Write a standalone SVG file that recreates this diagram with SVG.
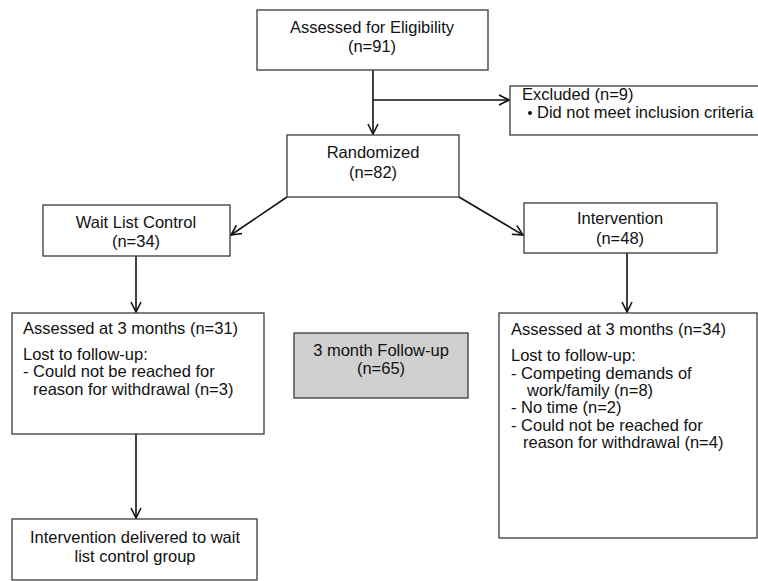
<svg xmlns="http://www.w3.org/2000/svg" width="758" height="581" viewBox="0 0 758 581">
<style>
.box{fill:#fff;stroke:#3a3a3a;stroke-width:1.3}
.gray{fill:#d0d0d0;stroke:#3a3a3a;stroke-width:1.3}
text{font-family:"Liberation Sans",Arial,sans-serif;font-size:16.5px;fill:#111}
.c{text-anchor:middle}
.ln{stroke:#111;stroke-width:1.6;fill:none}
</style>
<defs>
<marker id="ah" viewBox="0 0 12 12" refX="11" refY="6" markerWidth="12" markerHeight="12" markerUnits="userSpaceOnUse" orient="auto">
<path d="M1,1 L11,6 L1,11" fill="none" stroke="#111" stroke-width="1.6"/>
</marker>
</defs>
<g id="connectors">
<line class="ln" x1="373" y1="70" x2="373" y2="134" marker-end="url(#ah)"/>
<line class="ln" x1="373" y1="100" x2="509" y2="100" marker-end="url(#ah)"/>
<line class="ln" x1="287" y1="197" x2="231" y2="235" marker-end="url(#ah)"/>
<line class="ln" x1="459" y1="197" x2="523" y2="235" marker-end="url(#ah)"/>
<line class="ln" x1="136" y1="256" x2="136" y2="312" marker-end="url(#ah)"/>
<line class="ln" x1="627" y1="253" x2="627" y2="312" marker-end="url(#ah)"/>
<line class="ln" x1="136" y1="434" x2="136" y2="518" marker-end="url(#ah)"/>
</g>
<g id="eligibility">
<rect class="box" x="257" y="10" width="231" height="60"/>
<text class="c" x="372" y="33">Assessed for Eligibility</text>
<text class="c" x="372" y="52">(n=91)</text>
</g>
<g id="excluded">
<rect class="box" x="510" y="86" width="260" height="49"/>
<text x="522" y="100">Excluded (n=9)</text>
<circle cx="530" cy="113" r="2" fill="#111"/>
<text x="537" y="118">Did not meet inclusion criteria</text>
</g>
<g id="randomized">
<rect class="box" x="287" y="135" width="172" height="62"/>
<text class="c" x="373" y="158">Randomized</text>
<text class="c" x="373" y="178">(n=82)</text>
</g>
<g id="waitlist">
<rect class="box" x="43" y="205" width="187" height="51"/>
<text class="c" x="136" y="228">Wait List Control</text>
<text class="c" x="136" y="247">(n=34)</text>
</g>
<g id="intervention">
<rect class="box" x="524" y="203" width="193" height="50"/>
<text class="c" x="620" y="224">Intervention</text>
<text class="c" x="620" y="244">(n=48)</text>
</g>
<g id="assessed-left">
<rect class="box" x="12" y="313" width="252" height="121"/>
<text x="23" y="334">Assessed at 3 months (n=31)</text>
<text x="23" y="360">Lost to follow-up:</text>
<text x="23" y="377">- Could not be reached for</text>
<text x="33" y="395">reason for withdrawal (n=3)</text>
</g>
<g id="followup">
<rect class="gray" x="294" y="333" width="174" height="65"/>
<text class="c" x="381" y="356">3 month Follow-up</text>
<text class="c" x="381" y="374">(n=65)</text>
</g>
<g id="assessed-right">
<rect class="box" x="499" y="313" width="258" height="225"/>
<text x="511" y="335">Assessed at 3 months (n=34)</text>
<text x="511" y="361">Lost to follow-up:</text>
<text x="511" y="379">- Competing demands of</text>
<text x="527" y="396">work/family (n=8)</text>
<text x="511" y="413">- No time (n=2)</text>
<text x="511" y="431">- Could not be reached for</text>
<text x="523" y="448">reason for withdrawal (n=4)</text>
</g>
<g id="delivered">
<rect class="box" x="12" y="519" width="245" height="61"/>
<text class="c" x="135" y="543">Intervention delivered to wait</text>
<text class="c" x="135" y="562">list control group</text>
</g>
</svg>
